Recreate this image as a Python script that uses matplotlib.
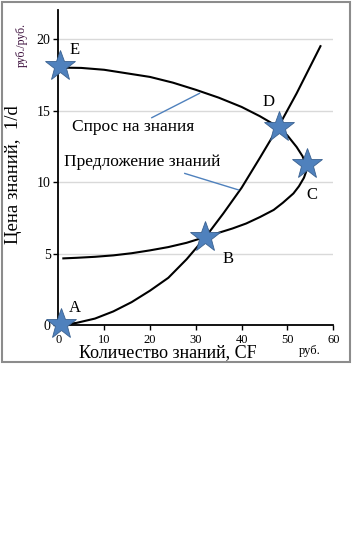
import matplotlib
matplotlib.use("Agg")
import matplotlib.pyplot as plt
from matplotlib.patches import Rectangle

plt.rcParams['font.family'] = ['Liberation Serif', 'DejaVu Serif']

# кривая предложения (A - B - D)
supply_x = [0.5, 4, 8, 12, 16, 20, 24, 28, 32, 36, 40, 44, 48, 52, 57.2]
supply_y = [0.0, 0.15, 0.45, 0.95, 1.6, 2.4, 3.3, 4.6, 6.1, 7.8, 9.6, 11.7, 13.85, 16.2, 19.5]

# кривая спроса (E - D - C - B - ...)
demand_x = [0.5, 5, 10, 15, 20, 25, 30, 35, 40, 44, 48, 50, 52, 53.3, 54.0, 54.1,
            53.6, 52.5, 51.3, 49, 47, 44, 41, 38, 35, 32, 28, 24, 20, 16, 12, 8, 4, 1.1]
demand_y = [18.0, 17.98, 17.85, 17.6, 17.35, 16.95, 16.45, 15.9, 15.25, 14.6, 13.85, 13.25,
            12.45, 11.8, 11.2, 10.75, 10.3, 9.7, 9.2, 8.55, 8.05, 7.55, 7.1, 6.75, 6.45,
            6.15, 5.75, 5.45, 5.22, 5.02, 4.87, 4.77, 4.7, 4.66]

# точки-звёзды
star_names = ['A', 'B', 'C', 'D', 'E']
star_x = [0.5, 32.1, 54.3, 48.1, 0.4]
star_y = [0.05, 6.17, 11.25, 13.85, 18.1]
name_x = [3.6, 37.0, 55.3, 45.8, 3.6]
name_y = [1.2, 4.6, 9.1, 15.6, 19.2]

fig = plt.figure(figsize=(3.54, 5.55), dpi=100)
fig.patches.append(Rectangle((0.007, 0.348), 0.982, 0.648, transform=fig.transFigure,
                             fill=False, edgecolor='#8c8c8c', linewidth=1.5))

ax = fig.add_axes([0.1647, 0.4144, 0.7768, 0.5668])
ax.set_xlim(0, 60)
ax.set_ylim(0, 22)
ax.set_xticks([0, 10, 20, 30, 40, 50, 60])
ax.set_yticks([0, 5, 10, 15, 20])
ax.tick_params(axis='x', labelsize=9, length=3.5, width=1, pad=3)
ax.tick_params(axis='y', labelsize=10, length=3.5, width=1, pad=2)
for s in ['top', 'right']:
    ax.spines[s].set_visible(False)
for s in ['left', 'bottom']:
    ax.spines[s].set_linewidth(1.3)
ax.yaxis.grid(True, color='#d9d9d9', linewidth=1)
ax.set_axisbelow(True)

ax.plot(supply_x, supply_y, color='black', lw=1.5)
ax.plot(demand_x, demand_y, color='black', lw=1.5)
ax.plot(star_x, star_y, linestyle='none', marker='*', markersize=23,
        markerfacecolor='#4f81bd', markeredgecolor='#3a6190', markeredgewidth=0.6,
        clip_on=False, zorder=5)
for n, x, y in zip(star_names, name_x, name_y):
    ax.text(x, y, n, fontsize=12, ha='center', va='center')

ax.text(16.4, 13.85, 'Спрос на знания', fontsize=12.5, ha='center', va='center')
ax.text(18.4, 11.4, 'Предложение знаний', fontsize=12.5, ha='center', va='center')
ax.plot([20.4, 30.8], [14.5, 16.2], color='#4f81bd', lw=1)
ax.plot([27.6, 39.3], [10.6, 9.45], color='#4f81bd', lw=1)

fig.text(168 / 354, 1 - 353 / 555, 'Количество знаний, CF', fontsize=13, ha='center', va='center')
fig.text(14 / 354, 1 - 175 / 555, 'Цена знаний,  1/d', fontsize=13.5, rotation=90,
         ha='center', va='center')
fig.text(22 / 354, 1 - 45 / 555, 'руб./руб.', fontsize=8.5, rotation=90, color='#3c0f3c',
         ha='center', va='center')
fig.text(310 / 354, 1 - 351 / 555, 'руб.', fontsize=9, ha='center', va='center')

fig.savefig('out.png', dpi=100)
